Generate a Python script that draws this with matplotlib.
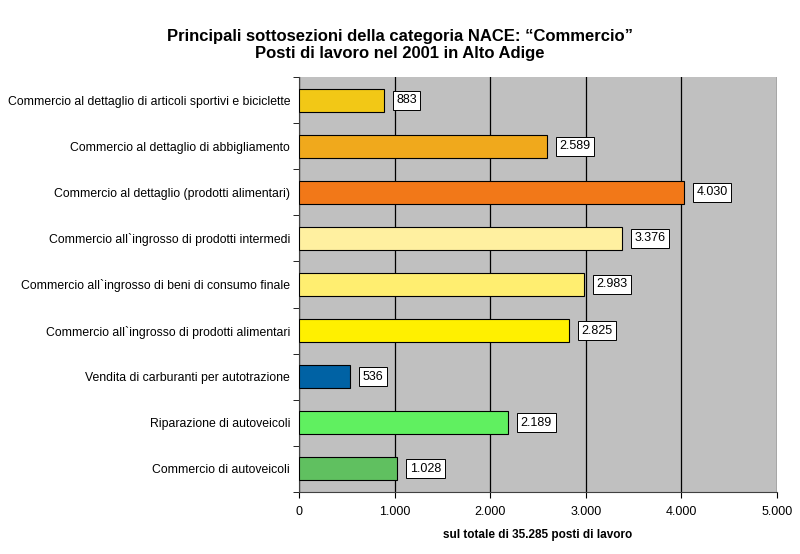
import matplotlib

matplotlib.use("Agg")
import matplotlib.pyplot as plt
from matplotlib.ticker import FuncFormatter, MultipleLocator

categories = [
    "Commercio al dettaglio di articoli sportivi e biciclette",
    "Commercio al dettaglio di abbigliamento",
    "Commercio al dettaglio (prodotti alimentari)",
    "Commercio all`ingrosso di prodotti intermedi",
    "Commercio all`ingrosso di beni di consumo finale",
    "Commercio all`ingrosso di prodotti alimentari",
    "Vendita di carburanti per autotrazione",
    "Riparazione di autoveicoli",
    "Commercio di autoveicoli",
]
values = [883, 2589, 4030, 3376, 2983, 2825, 536, 2189, 1028]
colors = ["#F2C816", "#F0A91C", "#F27818", "#FFF0A0", "#FFEE70",
          "#FFF000", "#0062A4", "#60F060", "#60C060"]

plt.rcParams["font.family"] = ["Liberation Sans", "DejaVu Sans"]


def fmt_it(v):
    return f"{int(v):,}".replace(",", ".")


fig = plt.figure(figsize=(8, 5.54), dpi=100)
ax = fig.add_axes([0.374, 0.112, 0.597, 0.749])
ax.set_facecolor("#C0C0C0")

y = list(range(len(categories)))[::-1]
ax.barh(y, values, height=0.5, color=colors, edgecolor="black", linewidth=0.8, zorder=3)

for yi, v in zip(y, values):
    ax.annotate(fmt_it(v), (v, yi), xytext=(9, 0), textcoords="offset points",
                ha="left", va="center", fontsize=9, zorder=4,
                bbox=dict(boxstyle="square,pad=0.28", fc="white", ec="black", lw=0.7))

ax.set_xlim(0, 5000)
ax.set_ylim(-0.5, len(categories) - 0.5)
ax.xaxis.set_major_locator(MultipleLocator(1000))
ax.xaxis.set_major_formatter(FuncFormatter(lambda v, p: fmt_it(v)))
ax.grid(axis="x", color="black", linewidth=0.9, zorder=1)

ax.set_yticks(y)
ax.set_yticklabels(categories, fontsize=8.8)
ax.set_yticks([i - 0.5 for i in range(len(categories) + 1)], minor=True)
ax.tick_params(axis="y", which="major", length=0, pad=6.5)
ax.tick_params(axis="y", which="minor", length=4, direction="out")
ax.tick_params(axis="x", labelsize=9, length=4, direction="out", pad=6)

for side in ("top", "right"):
    ax.spines[side].set_visible(False)
ax.spines["left"].set_color("#404040")
ax.spines["bottom"].set_color("#404040")

ax.set_xlabel("sul totale di 35.285 posti di lavoro", fontsize=8.5, fontweight="bold", labelpad=8)

fig.suptitle("Principali sottosezioni della categoria NACE: \u201cCommercio\u201d\nPosti di lavoro nel 2001 in Alto Adige",
             fontsize=12, fontweight="bold", x=0.5, y=0.948, linespacing=1.2)

fig.savefig("out.png", dpi=100, facecolor="white")
